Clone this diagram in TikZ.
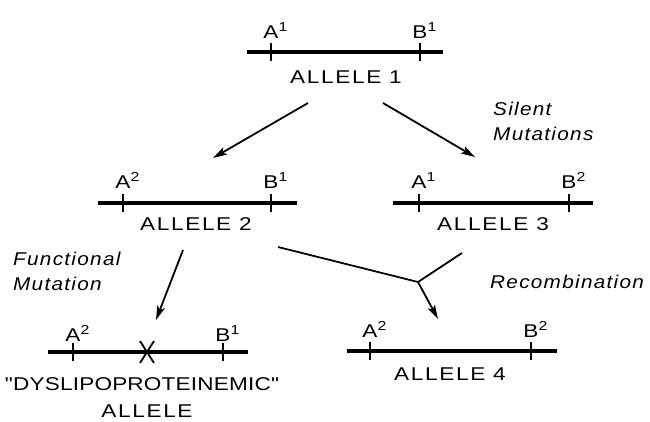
\documentclass[tikz,border=0pt]{standalone}
\usepackage{fontspec}
\setsansfont{Liberation Sans}
\newfontfamily\lettering[FakeStretch=1.22,LetterSpace=9]{Liberation Sans}
\newfontfamily\letteringtight[FakeStretch=1.22,LetterSpace=1]{Liberation Sans}
\newfontfamily\italettering[FakeStretch=1.12,LetterSpace=7]{Liberation Sans Italic}
\usetikzlibrary{arrows.meta}
\newcommand{\supr}[1]{\rlap{\raisebox{7pt}{\fontsize{13}{13}\selectfont\lettering #1}}}
\begin{document}
\begin{tikzpicture}[x=1pt,y=-1pt,
  chrom/.style={line width=3.8pt},
  tickmark/.style={line width=1.7pt},
  lab/.style={font=\lettering\fontsize{18.5}{20}\selectfont, inner sep=0pt, anchor=base},
  labtight/.style={font=\letteringtight\fontsize{18.5}{20}\selectfont, inner sep=0pt, anchor=base},
  ital/.style={font=\italettering\fontsize{18.5}{20}\selectfont, inner sep=0pt, anchor=base west},
  arr/.style={line width=1.8pt, -{Stealth[length=14pt,width=8pt,inset=3pt]}},
  plain/.style={line width=1.8pt}
]
\useasboundingbox (0,0) rectangle (650,421);

% ---------- Allele 1 ----------
\coordinate (c1l) at (247,52); \coordinate (c1r) at (443,52);
\draw[chrom] (c1l) -- (c1r);
\draw[tickmark] (271,43) -- (271,61);
\draw[tickmark] (420,43) -- (420,61);
\node[lab] (a1A) at (271,38) {A\supr{1}};
\node[lab] (a1B) at (420,38) {B\supr{1}};
\node[lab] (al1) at (346,83) {ALLELE 1};

% ---------- Allele 2 ----------
\coordinate (c2l) at (98,203); \coordinate (c2r) at (297,203);
\draw[chrom] (c2l) -- (c2r);
\draw[tickmark] (123,194) -- (123,212);
\draw[tickmark] (271,194) -- (271,212);
\node[lab] (a2A) at (123,188) {A\supr{2}};
\node[lab] (a2B) at (271,188) {B\supr{1}};
\node[lab] (al2) at (196,230) {ALLELE 2};

% ---------- Allele 3 ----------
\coordinate (c3l) at (393,203); \coordinate (c3r) at (593,203);
\draw[chrom] (c3l) -- (c3r);
\draw[tickmark] (419,194) -- (419,212);
\draw[tickmark] (569,194) -- (569,212);
\node[lab] (a3A) at (419,188) {A\supr{1}};
\node[lab] (a3B) at (569,188) {B\supr{2}};
\node[lab] (al3) at (493,230) {ALLELE 3};

% ---------- Dyslipoproteinemic allele ----------
\coordinate (cdl) at (48,352); \coordinate (cdr) at (248,352);
\draw[chrom] (cdl) -- (cdr);
\draw[tickmark] (73,343) -- (73,361);
\draw[tickmark] (223,343) -- (223,361);
\coordinate (mut) at (147,352);
\draw[line width=1.8pt] ([shift={(-7,-11)}]mut) -- ([shift={(7,11)}]mut);
\draw[line width=1.8pt] ([shift={(7,-11)}]mut) -- ([shift={(-7,11)}]mut);
\node[lab] (adA) at (73,341) {A\supr{2}};
\node[lab] (adB) at (223,341) {B\supr{1}};
\node[labtight] (ald) at (142,390) {"DYSLIPOPROTEINEMIC"};
\node[lab] (ald2) at (147,417) {ALLELE};

% ---------- Allele 4 ----------
\coordinate (c4l) at (347,351); \coordinate (c4r) at (557,351);
\draw[chrom] (c4l) -- (c4r);
\draw[tickmark] (370,342) -- (370,360);
\draw[tickmark] (531,342) -- (531,360);
\node[lab] (a4A) at (370,337) {A\supr{2}};
\node[lab] (a4B) at (531,337) {B\supr{2}};
\node[lab] (al4) at (450,380) {ALLELE 4};

% ---------- Process labels ----------
\node[ital] (sil1) at (493,115) {Silent};
\node[ital] (sil2) at (493,140) {Mutations};
\node[ital] (fun1) at (13,265) {Functional};
\node[ital] (fun2) at (13,290) {Mutation};
\node[ital] (rec) at (490,288) {Recombination};

% ---------- Connectors ----------
\coordinate (o1l) at (308,103); \coordinate (i2) at (213,158);
\coordinate (o1r) at (383,103); \coordinate (i3) at (475,157);
\coordinate (o2d) at (183,250); \coordinate (idys) at (156,320);
\coordinate (o2r) at (278,247); \coordinate (o3l) at (462,253);
\coordinate (join) at (418,282); \coordinate (i4) at (438,319);
\draw[arr] (o1l) -- (i2);
\draw[arr] (o1r) -- (i3);
\draw[arr] (o2d) -- (idys);
\draw[plain, line join=miter] (o2r) -- (join) -- (o3l);
\draw[arr] (join) -- (i4);
\end{tikzpicture}
\end{document}
